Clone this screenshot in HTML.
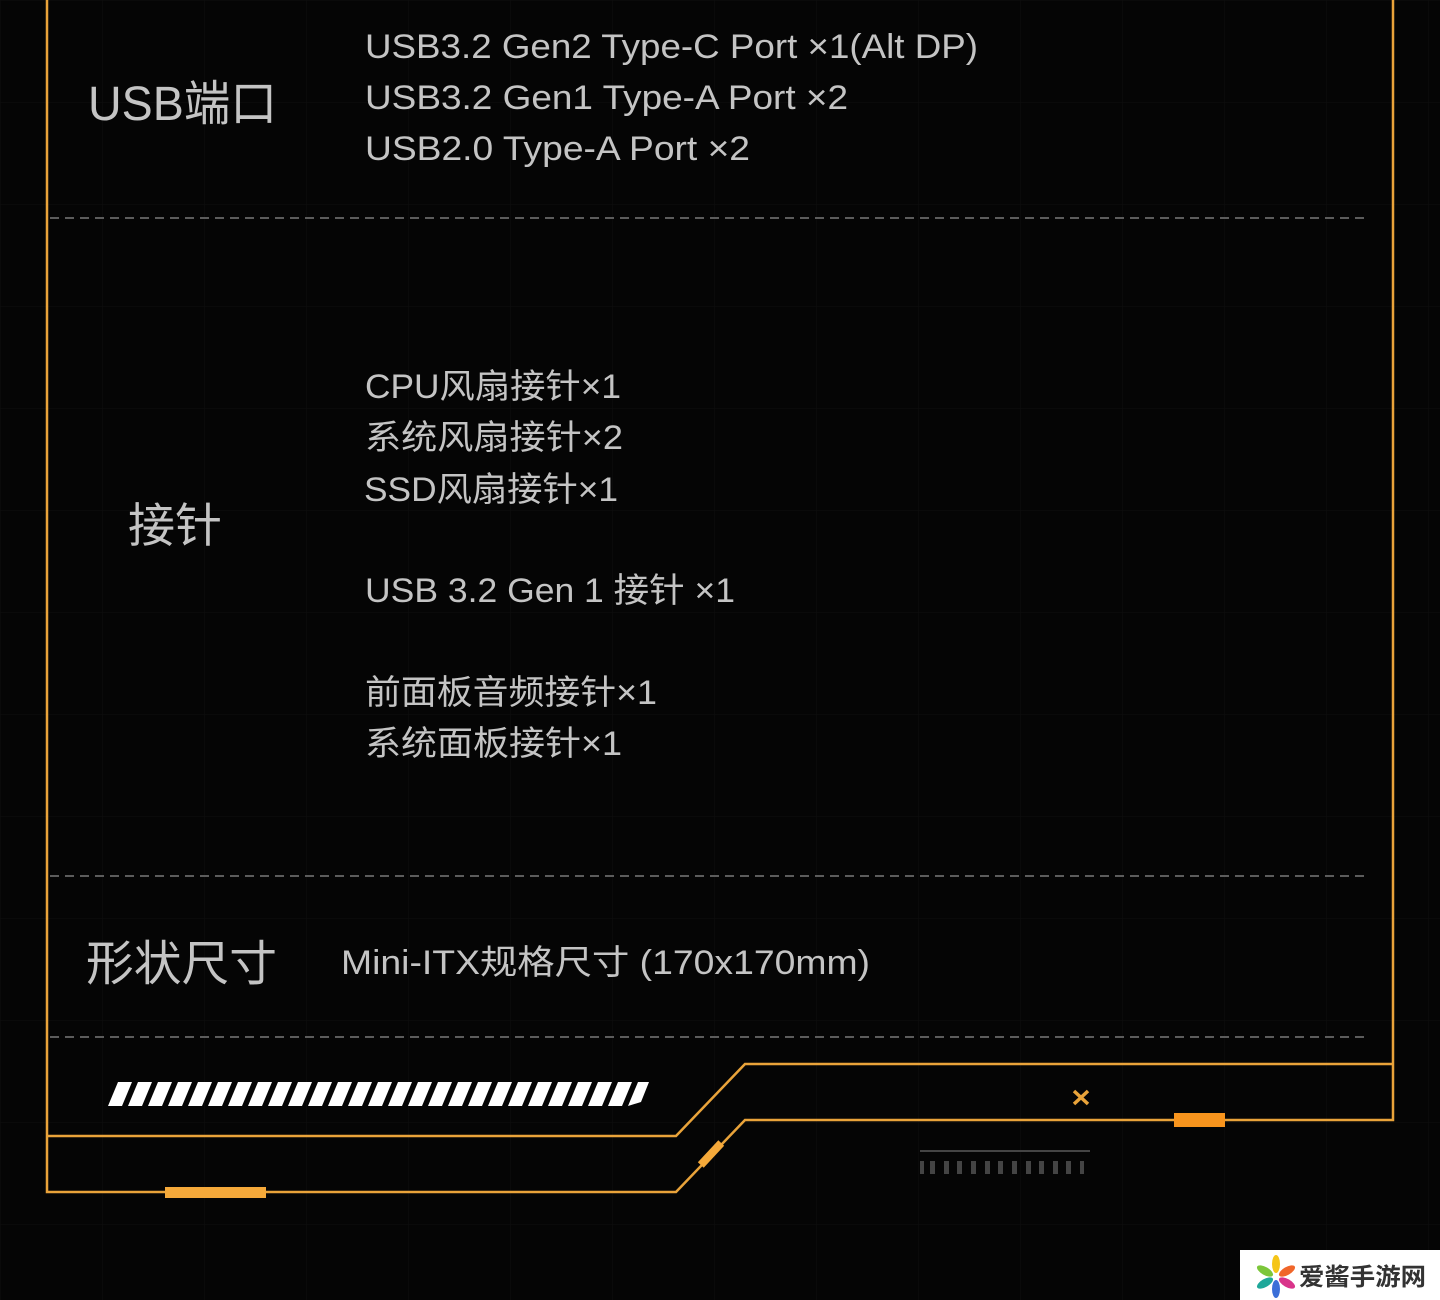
<!DOCTYPE html>
<html><head><meta charset="utf-8"><style>
html,body{margin:0;padding:0;background:#050505;width:1440px;height:1300px;overflow:hidden}
svg{display:block}
text{font-family:"Liberation Sans","Noto Sans CJK SC",sans-serif;fill:#c4c4c4}
</style></head><body>
<svg width="1440" height="1300" viewBox="0 0 1440 1300">
<defs>
<pattern id="g" width="102" height="102" patternUnits="userSpaceOnUse" x="0" y="0">
<path d="M0 0V102M0 0H102" stroke="#0e0e0e" stroke-width="1"/>
</pattern>
</defs>
<rect width="1440" height="1300" fill="#050505"/>
<rect width="1440" height="1300" fill="url(#g)"/>
<g stroke="#5c5c5c" stroke-width="2" stroke-dasharray="9 6">
<line x1="50" y1="218" x2="1370" y2="218"/>
<line x1="50" y1="876" x2="1370" y2="876"/>
<line x1="50" y1="1037" x2="1370" y2="1037"/>
</g>
<g fill="none" stroke="#e9a33a" stroke-width="2.5">
<path d="M47 0V1192H676L745 1120H1393V0"/>
<path d="M47 1136H676L745 1064H1393"/>
</g>
<rect x="165" y="1187" width="101" height="11" fill="#f5a93a"/>
<rect x="1174" y="1113" width="51" height="14" fill="#f7941d"/>
<rect x="-15" y="-4" width="30" height="8" fill="#f5a93a" transform="translate(711,1154) rotate(-47)"/>
<path d="M1074 1091L1088 1104M1088 1091L1074 1104" stroke="#e9a33a" stroke-width="3.5"/>
<line x1="920" y1="1151" x2="1090" y2="1151" stroke="#444" stroke-width="2"/>
<g fill="#444">
<rect x="920" y="1161" width="4" height="13"/><rect x="930" y="1161" width="5" height="13"/><rect x="944" y="1161" width="5" height="13"/><rect x="957" y="1161" width="5" height="13"/><rect x="971" y="1161" width="5" height="13"/><rect x="985" y="1161" width="5" height="13"/><rect x="998" y="1161" width="5" height="13"/><rect x="1012" y="1161" width="5" height="13"/><rect x="1026" y="1161" width="5" height="13"/><rect x="1039" y="1161" width="5" height="13"/><rect x="1053" y="1161" width="5" height="13"/><rect x="1066" y="1161" width="5" height="13"/><rect x="1080" y="1161" width="4" height="13"/>
</g>
<g fill="#fff">
<path d="M108 1106l10-24h14l-10 24z"/><path d="M128 1106l10-24h14l-10 24z"/><path d="M148 1106l10-24h14l-10 24z"/><path d="M168 1106l10-24h14l-10 24z"/><path d="M188 1106l10-24h14l-10 24z"/><path d="M208 1106l10-24h14l-10 24z"/><path d="M228 1106l10-24h14l-10 24z"/><path d="M248 1106l10-24h14l-10 24z"/><path d="M268 1106l10-24h14l-10 24z"/><path d="M288 1106l10-24h14l-10 24z"/><path d="M308 1106l10-24h14l-10 24z"/><path d="M328 1106l10-24h14l-10 24z"/><path d="M348 1106l10-24h14l-10 24z"/><path d="M368 1106l10-24h14l-10 24z"/><path d="M388 1106l10-24h14l-10 24z"/><path d="M408 1106l10-24h14l-10 24z"/><path d="M428 1106l10-24h14l-10 24z"/><path d="M448 1106l10-24h14l-10 24z"/><path d="M468 1106l10-24h14l-10 24z"/><path d="M488 1106l10-24h14l-10 24z"/><path d="M508 1106l10-24h14l-10 24z"/><path d="M528 1106l10-24h14l-10 24z"/><path d="M548 1106l10-24h14l-10 24z"/><path d="M568 1106l10-24h14l-10 24z"/><path d="M588 1106l10-24h14l-10 24z"/><path d="M608 1106l10-24h14l-10 24z"/><path d="M628 1106l10-24h11l-8 20z"/>
</g>
<text x="88" y="120" font-size="48" textLength="189" lengthAdjust="spacingAndGlyphs">USB端口</text>
<text x="365" y="58" font-size="34" textLength="613" lengthAdjust="spacingAndGlyphs">USB3.2 Gen2 Type-C Port ×1(Alt DP)</text>
<text x="365" y="109" font-size="34" textLength="483" lengthAdjust="spacingAndGlyphs">USB3.2 Gen1 Type-A Port ×2</text>
<text x="365" y="160" font-size="34" textLength="385" lengthAdjust="spacingAndGlyphs">USB2.0 Type-A Port ×2</text>
<text x="128" y="542" font-size="47" textLength="94" lengthAdjust="spacingAndGlyphs">接针</text>
<text x="365" y="398" font-size="34" textLength="256" lengthAdjust="spacingAndGlyphs">CPU风扇接针×1</text>
<text x="365" y="449" font-size="34" textLength="258" lengthAdjust="spacingAndGlyphs">系统风扇接针×2</text>
<text x="364" y="501" font-size="34" textLength="254" lengthAdjust="spacingAndGlyphs">SSD风扇接针×1</text>
<text x="365" y="602" font-size="34" textLength="370" lengthAdjust="spacingAndGlyphs">USB 3.2 Gen 1 接针 ×1</text>
<text x="365" y="704" font-size="34" textLength="292" lengthAdjust="spacingAndGlyphs">前面板音频接针×1</text>
<text x="365" y="755" font-size="34" textLength="257" lengthAdjust="spacingAndGlyphs">系统面板接针×1</text>
<text x="86" y="980" font-size="48" textLength="191" lengthAdjust="spacingAndGlyphs">形状尺寸</text>
<text x="341" y="974" font-size="34" textLength="529" lengthAdjust="spacingAndGlyphs">Mini-ITX规格尺寸 (170x170mm)</text>
<rect x="1240" y="1250" width="200" height="50" fill="#fff"/>
<g transform="translate(1276,1276)">
<ellipse cx="0" cy="-12" rx="4" ry="9" fill="#f5c518"/>
<ellipse cx="11" cy="-5" rx="4" ry="9" fill="#f0662a" transform="rotate(60 11 -5)"/>
<ellipse cx="11" cy="7" rx="4" ry="9" fill="#d9348a" transform="rotate(120 11 7)"/>
<ellipse cx="0" cy="13" rx="4" ry="9" fill="#3b6fd8"/>
<ellipse cx="-11" cy="7" rx="4" ry="9" fill="#1fa89a" transform="rotate(60 -11 7)"/>
<ellipse cx="-11" cy="-5" rx="4" ry="9" fill="#7cc63a" transform="rotate(120 -11 -5)"/>
</g>
<text x="1299" y="1285" font-size="24" font-weight="bold" style="fill:#333" textLength="127" lengthAdjust="spacingAndGlyphs">爱酱手游网</text>
</svg>
</body></html>
